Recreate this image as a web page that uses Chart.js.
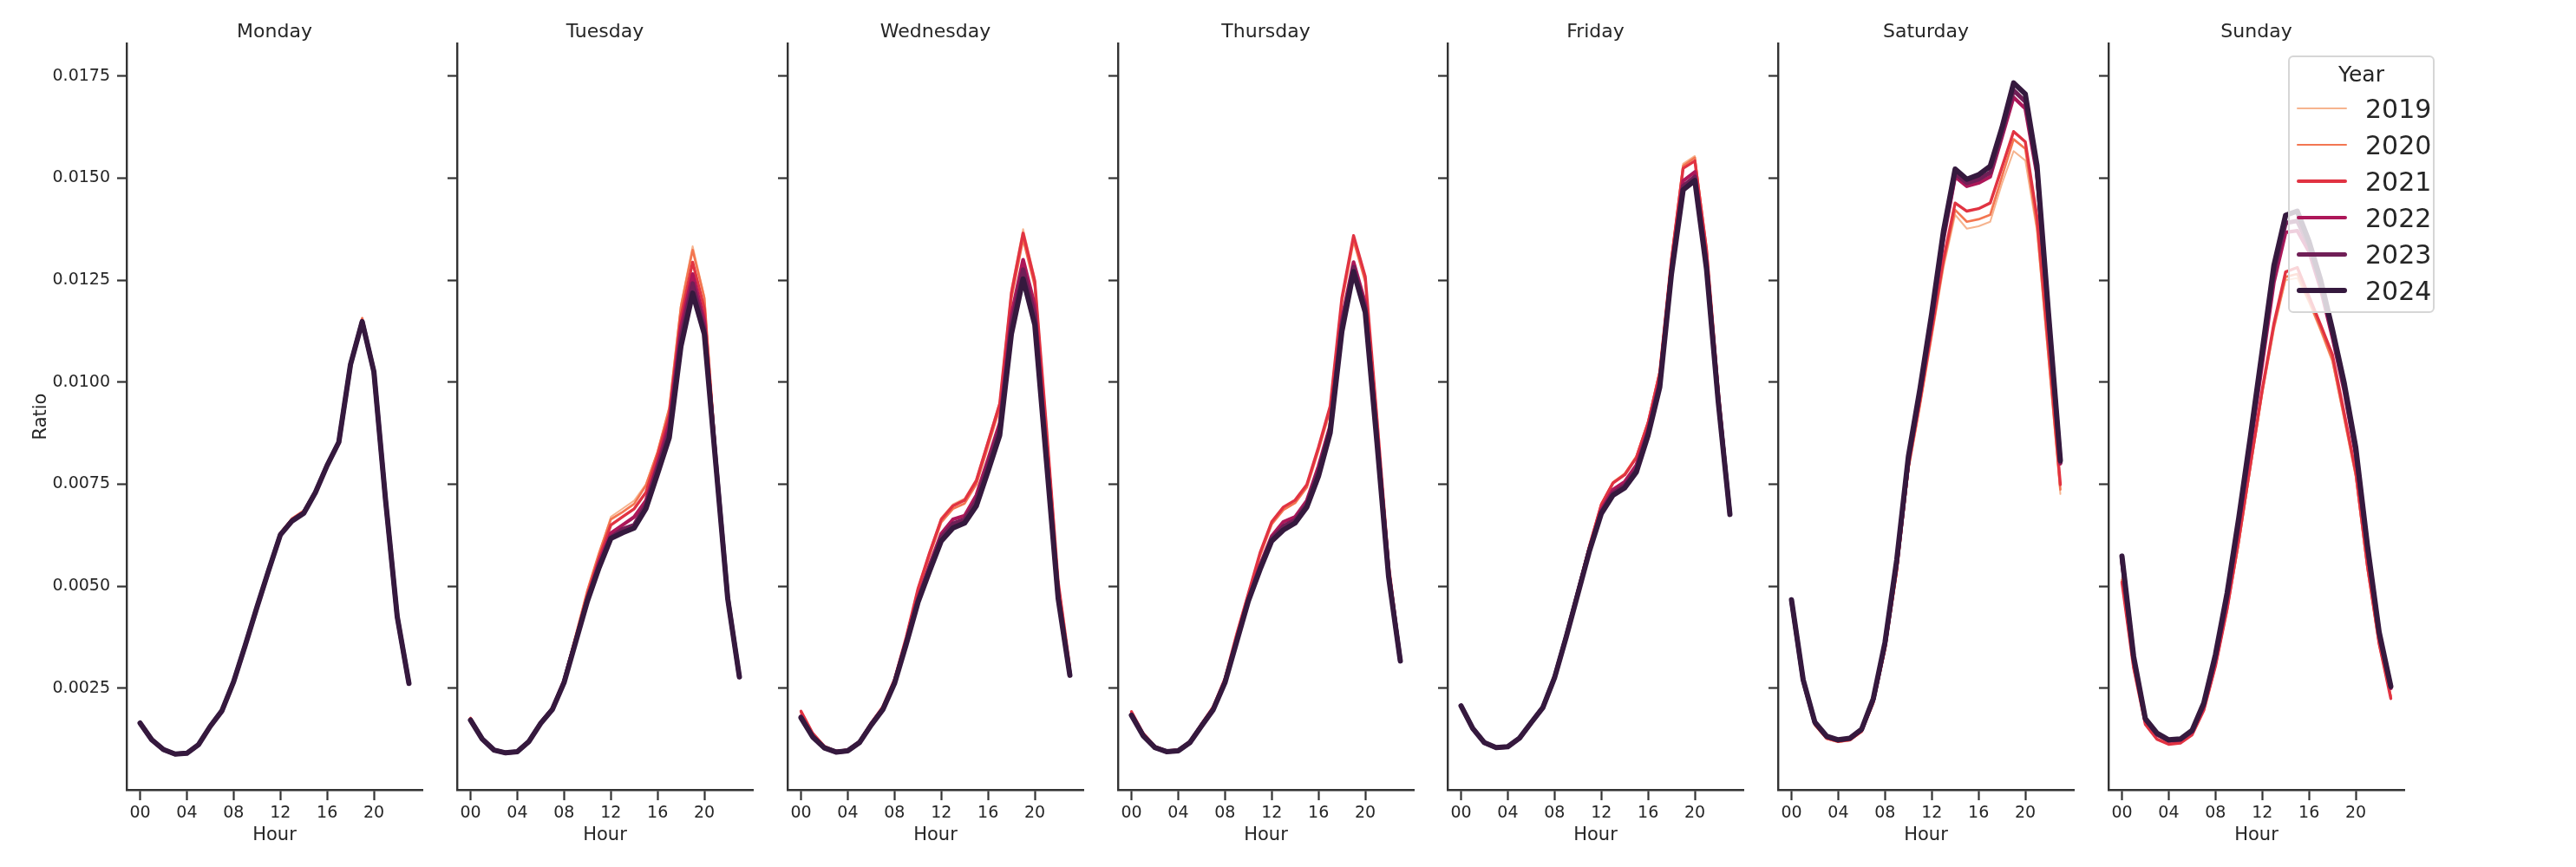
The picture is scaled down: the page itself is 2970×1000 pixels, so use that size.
<!DOCTYPE html>
<html>
<head>
<meta charset="utf-8">
<script src="https://cdn.jsdelivr.net/npm/chart.js@4/dist/chart.umd.min.js"></script>
<style>
  body { margin: 0; background: #fff; width: 2970px; height: 1000px; overflow: hidden; position: relative; font-family: "DejaVu Sans", sans-serif; }
  canvas { position: absolute; top: 0; z-index: 1; }
  #legend { position: absolute; z-index: 5; left: 2638px; top: 64px; width: 169px; height: 297px; box-sizing: border-box;
            border: 2px solid #d6d6d6; border-radius: 6px; background: rgba(255,255,255,0.8); color: #262626; }
  #legend span { position: absolute; white-space: nowrap; }
  #legend .ln { position: absolute; left: 8px; width: 58px; border-radius: 3px; }
</style>
</head>
<body>
<div id="legend"></div>
<script>
// ---- data ----
const days = ['Monday', 'Tuesday', 'Wednesday', 'Thursday', 'Friday', 'Saturday', 'Sunday'];
const years = ['2019', '2020', '2021', '2022', '2023', '2024'];
const hours = [0,1,2,3,4,5,6,7,8,9,10,11,12,13,14,15,16,17,18,19,20,21,22,23];
const xTicks = [0, 4, 8, 12, 16, 20];
const yTicks = [0.0025, 0.005, 0.0075, 0.01, 0.0125, 0.015, 0.0175];
const colors = ['#f6b48f', '#f37651', '#e13342', '#ad1759', '#701f57', '#35193e'];
const widths = [2, 2.7, 3.4, 4.2, 5, 6];

// one list per day, series in the order of `years`
const monday = [
  [0.00166,0.00124,0.00100,0.00089,0.00091,0.00112,0.00157,0.00196,0.00267,0.00358,0.00452,0.00543,0.00632,0.00667,0.00686,0.00736,0.00801,0.00857,0.01045,0.01155,0.01030,0.00713,0.00426,0.00262],
  [0.00166,0.00124,0.00100,0.00089,0.00091,0.00112,0.00157,0.00196,0.00267,0.00358,0.00451,0.00542,0.00631,0.00666,0.00685,0.00735,0.00800,0.00856,0.01046,0.01157,0.01030,0.00713,0.00426,0.00262],
  [0.00165,0.00124,0.00100,0.00089,0.00091,0.00112,0.00157,0.00195,0.00266,0.00357,0.00450,0.00541,0.00629,0.00664,0.00683,0.00733,0.00799,0.00855,0.01045,0.01152,0.01028,0.00712,0.00425,0.00262],
  [0.00165,0.00124,0.00100,0.00089,0.00091,0.00112,0.00157,0.00195,0.00266,0.00356,0.00449,0.00540,0.00627,0.00662,0.00681,0.00731,0.00797,0.00854,0.01044,0.01150,0.01027,0.00711,0.00425,0.00262],
  [0.00165,0.00124,0.00100,0.00089,0.00091,0.00112,0.00157,0.00195,0.00266,0.00356,0.00449,0.00539,0.00626,0.00661,0.00680,0.00730,0.00796,0.00853,0.01043,0.01149,0.01026,0.00711,0.00425,0.00262],
  [0.00165,0.00124,0.00100,0.00089,0.00091,0.00112,0.00157,0.00195,0.00266,0.00356,0.00449,0.00539,0.00626,0.00660,0.00679,0.00730,0.00796,0.00853,0.01043,0.01148,0.01026,0.00711,0.00425,0.00262]
];
const tuesday = [
  [0.00178,0.00128,0.00100,0.00093,0.00096,0.00122,0.00167,0.00203,0.00272,0.00380,0.00490,0.00580,0.00670,0.00690,0.00710,0.00750,0.00830,0.00940,0.01190,0.01333,0.01210,0.00820,0.00480,0.00281],
  [0.00178,0.00128,0.00100,0.00093,0.00096,0.00122,0.00167,0.00203,0.00272,0.00380,0.00490,0.00582,0.00664,0.00682,0.00702,0.00747,0.00829,0.00935,0.01185,0.01324,0.01206,0.00817,0.00479,0.00281],
  [0.00176,0.00127,0.00100,0.00093,0.00096,0.00121,0.00166,0.00201,0.00270,0.00372,0.00480,0.00570,0.00650,0.00670,0.00690,0.00730,0.00820,0.00920,0.01160,0.01294,0.01180,0.00810,0.00476,0.00280],
  [0.00174,0.00127,0.00099,0.00092,0.00095,0.00121,0.00165,0.00200,0.00268,0.00370,0.00470,0.00560,0.00630,0.00650,0.00670,0.00710,0.00800,0.00900,0.01135,0.01265,0.01150,0.00800,0.00473,0.00279],
  [0.00173,0.00126,0.00099,0.00092,0.00095,0.00120,0.00165,0.00199,0.00266,0.00367,0.00470,0.00550,0.00620,0.00640,0.00650,0.00700,0.00790,0.00880,0.01110,0.01242,0.01130,0.00800,0.00472,0.00278],
  [0.00172,0.00126,0.00099,0.00092,0.00095,0.00120,0.00164,0.00198,0.00264,0.00364,0.00464,0.00546,0.00617,0.00631,0.00643,0.00690,0.00776,0.00864,0.01088,0.01218,0.01118,0.00794,0.00470,0.00278]
];
const wednesday = [
  [0.00192,0.00139,0.00108,0.00096,0.00099,0.00120,0.00165,0.00205,0.00273,0.00377,0.00495,0.00585,0.00668,0.00701,0.00715,0.00763,0.00857,0.00952,0.01228,0.01375,0.01255,0.00893,0.00513,0.00301],
  [0.00190,0.00138,0.00107,0.00096,0.00099,0.00120,0.00164,0.00204,0.00271,0.00373,0.00488,0.00575,0.00657,0.00690,0.00703,0.00750,0.00843,0.00937,0.01205,0.01350,0.01235,0.00878,0.00505,0.00298],
  [0.00194,0.00140,0.00108,0.00096,0.00099,0.00120,0.00165,0.00205,0.00272,0.00375,0.00493,0.00582,0.00664,0.00697,0.00711,0.00759,0.00853,0.00947,0.01218,0.01365,0.01247,0.00888,0.00511,0.00300],
  [0.00182,0.00133,0.00105,0.00095,0.00098,0.00118,0.00162,0.00200,0.00266,0.00366,0.00470,0.00552,0.00629,0.00664,0.00673,0.00723,0.00811,0.00900,0.01165,0.01300,0.01188,0.00830,0.00480,0.00286],
  [0.00180,0.00132,0.00104,0.00094,0.00097,0.00117,0.00161,0.00199,0.00264,0.00362,0.00465,0.00545,0.00620,0.00653,0.00664,0.00710,0.00796,0.00886,0.01141,0.01276,0.01165,0.00818,0.00475,0.00284],
  [0.00178,0.00131,0.00104,0.00094,0.00097,0.00117,0.00160,0.00198,0.00262,0.00358,0.00460,0.00537,0.00611,0.00643,0.00655,0.00697,0.00782,0.00870,0.01118,0.01253,0.01141,0.00806,0.00470,0.00282]
];
const thursday = [
  [0.00192,0.00139,0.00108,0.00097,0.00099,0.00120,0.00163,0.00204,0.00273,0.00380,0.00480,0.00578,0.00655,0.00690,0.00707,0.00745,0.00836,0.00935,0.01200,0.01352,0.01252,0.00906,0.00549,0.00322],
  [0.00191,0.00138,0.00107,0.00097,0.00099,0.00120,0.00163,0.00204,0.00272,0.00378,0.00478,0.00575,0.00652,0.00687,0.00704,0.00742,0.00833,0.00932,0.01196,0.01347,0.01247,0.00902,0.00547,0.00322],
  [0.00193,0.00140,0.00108,0.00097,0.00099,0.00120,0.00163,0.00205,0.00274,0.00382,0.00482,0.00582,0.00658,0.00694,0.00711,0.00749,0.00841,0.00941,0.01206,0.01359,0.01259,0.00912,0.00552,0.00323],
  [0.00187,0.00136,0.00106,0.00096,0.00098,0.00118,0.00160,0.00200,0.00268,0.00370,0.00470,0.00552,0.00623,0.00658,0.00670,0.00710,0.00794,0.00894,0.01153,0.01294,0.01194,0.00876,0.00536,0.00319],
  [0.00185,0.00135,0.00105,0.00095,0.00097,0.00117,0.00159,0.00199,0.00266,0.00367,0.00467,0.00546,0.00617,0.00647,0.00662,0.00702,0.00782,0.00886,0.01141,0.01282,0.01182,0.00864,0.00530,0.00318],
  [0.00184,0.00134,0.00105,0.00095,0.00097,0.00117,0.00158,0.00198,0.00264,0.00364,0.00464,0.00541,0.00611,0.00638,0.00655,0.00694,0.00770,0.00876,0.01124,0.01271,0.01171,0.00853,0.00523,0.00317]
];
const friday = [
  [0.00208,0.00152,0.00117,0.00105,0.00107,0.00128,0.00167,0.00205,0.00280,0.00383,0.00492,0.00603,0.00703,0.00756,0.00777,0.00820,0.00905,0.01030,0.01305,0.01535,0.01554,0.01330,0.00986,0.00683],
  [0.00208,0.00152,0.00117,0.00105,0.00107,0.00128,0.00167,0.00205,0.00280,0.00383,0.00491,0.00601,0.00701,0.00754,0.00775,0.00817,0.00902,0.01026,0.01302,0.01530,0.01550,0.01328,0.00985,0.00683],
  [0.00207,0.00152,0.00117,0.00105,0.00107,0.00128,0.00167,0.00205,0.00280,0.00382,0.00490,0.00600,0.00700,0.00753,0.00773,0.00815,0.00900,0.01023,0.01300,0.01524,0.01542,0.01324,0.00983,0.00682],
  [0.00207,0.00152,0.00117,0.00105,0.00107,0.00128,0.00166,0.00204,0.00278,0.00379,0.00486,0.00594,0.00688,0.00737,0.00756,0.00797,0.00884,0.01004,0.01280,0.01493,0.01515,0.01298,0.00966,0.00679],
  [0.00207,0.00152,0.00117,0.00105,0.00107,0.00128,0.00166,0.00203,0.00277,0.00377,0.00484,0.00591,0.00682,0.00728,0.00747,0.00787,0.00876,0.00995,0.01272,0.01480,0.01503,0.01286,0.00958,0.00677],
  [0.00207,0.00152,0.00117,0.00105,0.00107,0.00128,0.00166,0.00203,0.00276,0.00376,0.00482,0.00588,0.00678,0.00723,0.00741,0.00780,0.00870,0.00988,0.01265,0.01471,0.01494,0.01277,0.00953,0.00676]
];
const saturday = [
  [0.00456,0.00262,0.00159,0.00126,0.00118,0.00122,0.00143,0.00212,0.00342,0.00530,0.00782,0.00940,0.01110,0.01280,0.01410,0.01376,0.01382,0.01393,0.01486,0.01566,0.01543,0.01370,0.01050,0.00726],
  [0.00458,0.00263,0.00160,0.00127,0.00119,0.00123,0.00144,0.00214,0.00345,0.00535,0.00788,0.00948,0.01118,0.01290,0.01422,0.01393,0.01399,0.01410,0.01503,0.01595,0.01572,0.01382,0.01059,0.00737],
  [0.00461,0.00265,0.00162,0.00128,0.00120,0.00124,0.00145,0.00216,0.00348,0.00540,0.00795,0.00956,0.01128,0.01301,0.01439,0.01419,0.01425,0.01439,0.01526,0.01614,0.01589,0.01405,0.01082,0.00749],
  [0.00463,0.00268,0.00165,0.00131,0.00122,0.00126,0.00148,0.00221,0.00356,0.00552,0.00803,0.00970,0.01150,0.01350,0.01503,0.01480,0.01488,0.01503,0.01600,0.01698,0.01670,0.01508,0.01152,0.00800],
  [0.00465,0.00270,0.00166,0.00132,0.00123,0.00127,0.00149,0.00223,0.00360,0.00558,0.00810,0.00977,0.01160,0.01360,0.01511,0.01488,0.01497,0.01514,0.01610,0.01715,0.01687,0.01520,0.01157,0.00804],
  [0.00467,0.00271,0.00167,0.00133,0.00124,0.00128,0.00150,0.00225,0.00363,0.00564,0.00818,0.00985,0.01169,0.01370,0.01522,0.01497,0.01508,0.01529,0.01623,0.01733,0.01706,0.01531,0.01163,0.00808]
];
const sunday = [
  [0.00520,0.00305,0.00165,0.00127,0.00115,0.00118,0.00138,0.00198,0.00306,0.00442,0.00605,0.00790,0.00970,0.01128,0.01250,0.01255,0.01195,0.01125,0.01050,0.00910,0.00768,0.00542,0.00356,0.00232],
  [0.00515,0.00302,0.00163,0.00126,0.00114,0.00117,0.00137,0.00197,0.00305,0.00443,0.00610,0.00795,0.00975,0.01135,0.01258,0.01265,0.01200,0.01130,0.01055,0.00915,0.00772,0.00545,0.00358,0.00230],
  [0.00510,0.00300,0.00162,0.00125,0.00113,0.00116,0.00136,0.00196,0.00305,0.00445,0.00615,0.00800,0.00982,0.01144,0.01270,0.01281,0.01210,0.01140,0.01068,0.00926,0.00780,0.00550,0.00360,0.00225],
  [0.00560,0.00320,0.00172,0.00136,0.00121,0.00123,0.00143,0.00206,0.00320,0.00468,0.00650,0.00845,0.01045,0.01245,0.01367,0.01371,0.01320,0.01228,0.01110,0.00980,0.00822,0.00588,0.00380,0.00250],
  [0.00570,0.00325,0.00174,0.00138,0.00123,0.00125,0.00145,0.00210,0.00327,0.00476,0.00660,0.00858,0.01062,0.01268,0.01390,0.01395,0.01335,0.01240,0.01120,0.00990,0.00832,0.00595,0.00385,0.00253],
  [0.00574,0.00328,0.00176,0.00140,0.00124,0.00126,0.00147,0.00214,0.00333,0.00484,0.00669,0.00869,0.01077,0.01286,0.01409,0.01419,0.01345,0.01250,0.01130,0.01000,0.00840,0.00600,0.00388,0.00255]
];
const dayData = [monday, tuesday, wednesday, thursday, friday, saturday, sunday];

// ---- layout ----
const FONT = '"DejaVu Sans", sans-serif';
const INK = '#262626';
const panelLeft = [146, 527, 908, 1289, 1669, 2050, 2431];
const plotW = 341;

// panel title, x label and (first panel only) y label
const facetText = {
  id: 'facetText',
  afterDraw(chart, args, opts) {
    const c = chart.ctx, a = chart.chartArea;
    c.save();
    c.fillStyle = INK;
    c.textAlign = 'center';
    c.textBaseline = 'alphabetic';
    c.font = '22px ' + FONT;
    c.fillText(opts.title, (a.left + a.right) / 2, 43);
    c.font = '21px ' + FONT;
    c.fillText('Hour', (a.left + a.right) / 2, 969);
    if (opts.ylabel) {
      c.translate(53, (a.top + a.bottom) / 2);
      c.rotate(-Math.PI / 2);
      c.fillText(opts.ylabel, 0, 0);
    }
    c.restore();
  }
};

days.forEach((day, k) => {
  const first = k === 0;
  const yW = first ? 146 : 20;
  const cv = document.createElement('canvas');
  cv.width = yW + plotW + 12;
  cv.height = 1000;
  cv.style.left = (panelLeft[k] - yW) + 'px';
  document.body.appendChild(cv);

  const datasets = years.map((yr, i) => ({
    label: yr,
    data: hours.map((h, j) => ({ x: h, y: dayData[k][i][j] })),
    borderColor: colors[i],
    borderWidth: widths[i],
    borderJoinStyle: 'round',
    borderCapStyle: 'round',
    pointRadius: 0,
    tension: 0,
    fill: false,
    order: years.length - i   // 2024 drawn last, on top
  }));

  new Chart(cv.getContext('2d'), {
    type: 'line',
    data: { datasets },
    plugins: [facetText],
    options: {
      responsive: false,
      animation: false,
      devicePixelRatio: 1,
      layout: { padding: { top: 50, bottom: 0, left: 0, right: 12 } },
      plugins: {
        legend: { display: false },
        tooltip: { enabled: false },
        facetText: { title: day, ylabel: first ? 'Ratio' : null }
      },
      scales: {
        x: {
          type: 'linear',
          min: -1.15, max: 24.15,
          afterBuildTicks: s => { s.ticks = xTicks.map(v => ({ value: v })); },
          afterFit: s => { s.height = 89; },
          ticks: {
            autoSkip: false, maxRotation: 0, padding: 4, color: INK,
            font: { family: FONT, size: 19 },
            callback: v => String(v).padStart(2, '0')
          },
          grid: { drawOnChartArea: false, drawTicks: true, tickLength: 12, tickWidth: 2.2, tickColor: '#333' },
          border: { display: true, color: '#333', width: 2.4 }
        },
        y: {
          type: 'linear',
          min: 0.000014, max: 0.0183,
          afterBuildTicks: s => { s.ticks = yTicks.map(v => ({ value: v })); },
          afterFit: s => { s.width = yW; },
          ticks: {
            display: first, padding: 8, color: INK,
            font: { family: FONT, size: 19 },
            callback: v => v.toFixed(4)
          },
          grid: { drawOnChartArea: false, drawTicks: true, tickLength: 11, tickWidth: 2.2, tickColor: '#333' },
          border: { display: true, color: '#333', width: 2.4 }
        }
      }
    }
  });
});

// ---- legend (Year) ----
const lg = document.getElementById('legend');
const ttl = document.createElement('span');
ttl.textContent = 'Year';
ttl.style.cssText = 'left:0;width:100%;text-align:center;top:7px;font-size:25px;line-height:25px;';
lg.appendChild(ttl);
years.forEach((yr, i) => {
  const cy = 59 + i * 42;
  const ln = document.createElement('div');
  ln.className = 'ln';
  ln.style.top = (cy - widths[i] / 2) + 'px';
  ln.style.height = widths[i] + 'px';
  ln.style.background = colors[i];
  lg.appendChild(ln);
  const t = document.createElement('span');
  t.textContent = yr;
  t.style.cssText = 'left:87px;top:' + (44.6 + i * 42) + 'px;font-size:30px;line-height:30px;';
  lg.appendChild(t);
});
</script>
</body>
</html>
